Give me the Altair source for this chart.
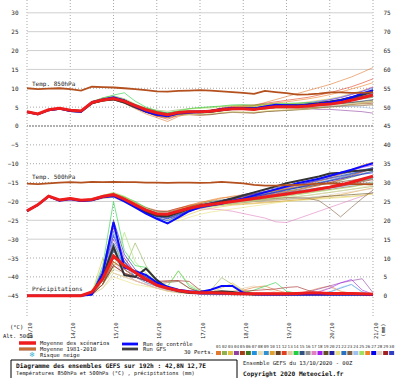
import altair as alt
import pandas as pd

FONT = "DejaVu Sans Mono"

HOURS = list(range(0, 193, 6))
DATES = ["13/10", "14/10", "15/10", "16/10", "17/10", "18/10", "19/10", "20/10", "21/10"]
MEMBER_IDS = ["%02d" % i for i in range(1, 31)]
MEMBER_COLORS = ["#e07830", "#90b050", "#e0c040", "#9040a0", "#a03c14", "#3c7820", "#2090e0", "#e8dcb0",
                 "#3090d0", "#e0a030", "#604020", "#e04020", "#e0c8a0", "#20d040", "#305080", "#909090",
                 "#e080c0", "#a020f0", "#605020", "#2020a0", "#e8e080", "#2870c0", "#806040", "#a0c0f0",
                 "#a0e060", "#f08020", "#0000f0", "#e0d0c0", "#a02020", "#3040c0"]

GRID_SOLID = [30, 25, 20, 15, -20, -25, -30]
GRID_DOTTED = [10, 5, -5, -10, -15, -35, -40, -45]
GRID_ZERO = [0]

# ---------------- 850 hPa temperature (deg C) ----------------
T850_MEAN = [3.8,3.2,4.3,4.7,4.2,4.0, 6.2,6.9,7.3,6.6,5.4,4.3, 3.5,3.0,3.6,3.8,3.8,3.9, 4.3,4.6,4.6,4.4,4.8,5.1, 5.1,5.1,5.3,5.6,5.8,6.2, 6.8,7.5,8.2]
T850_CLIM = [10.0,9.8,9.9,10.0,9.8,9.4, 10.4,10.3,10.2,10.0,9.8,9.5, 9.2,9.1,9.3,9.4,9.5,9.4, 9.2,9.0,8.8,8.5,9.3,9.0, 8.7,8.3,8.4,8.6,8.9,8.9, 8.8,8.8,8.9]
T850_CTRL = [3.7,3.1,4.2,4.6,4.0,3.8, 6.3,7.0,7.6,6.8,5.2,3.8, 3.0,2.6,3.3,3.6,3.7,3.9, 4.5,4.8,4.7,4.6,5.2,5.6, 5.5,5.4,5.6,5.9,6.3,6.8, 7.6,8.6,9.5]
T850_GFS = [3.7,3.1,4.2,4.6,4.0,3.8, 6.0,6.8,7.1,6.2,5.0,3.8, 3.0,2.8,3.5,3.7,3.6,3.8, 4.2,4.6,4.8,4.6,5.0,5.3, 5.4,5.4,5.7,6.0,6.4,6.9, 7.6,8.3,9.1]
T850_MEMBERS = [
    [3.9,3.3,4.4,4.8,4.3,4.1, 6.5,7.2,7.0,6.0,4.6,3.2, 2.2,1.2,2.5,3.4,3.8,4.0, 4.3,4.6,4.8,5.4,6.2,7.0, 7.8,8.6,9.4,10.2,11.0,12.0, 13.0,14.2,15.5],
    [3.8,3.2,4.3,4.7,4.2,4.0, 6.3,7.5,8.0,7.2,5.8,4.8, 4.2,3.9,4.3,4.6,4.8,5.0, 5.2,5.4,5.6,5.4,5.6,5.8, 5.9,5.8,5.7,5.8,5.9,6.0, 6.1,6.2,6.3],
    [3.8,3.2,4.2,4.6,4.1,3.9, 6.0,6.6,7.0,6.4,5.0,3.8, 2.8,2.2,3.0,3.5,3.8,4.0, 4.2,4.4,4.8,5.0,5.4,5.6, 5.8,6.0,6.4,6.8,7.2,7.8, 8.6,9.4,10.4],
    [3.7,3.1,4.3,4.7,4.2,4.0, 6.2,6.8,7.4,6.8,5.6,4.6, 3.8,3.4,3.8,3.9,3.8,3.7, 4.0,4.3,4.4,4.5,4.8,5.0, 5.0,4.8,4.6,4.4,4.4,4.2, 4.0,3.8,3.4],
    [3.8,3.2,4.3,4.8,4.3,4.1, 6.1,6.7,7.1,6.2,4.8,3.6, 2.6,2.2,2.8,3.0,2.8,3.0, 3.4,3.6,3.5,3.4,3.8,4.0, 4.2,4.4,4.6,4.9,5.1,5.3, 5.6,5.9,6.0],
    [3.9,3.3,4.4,4.7,4.2,4.1, 6.4,7.0,7.4,6.8,5.5,4.6, 3.9,3.4,3.9,4.1,4.0,4.1, 4.6,5.0,5.1,4.8,5.2,5.6, 5.7,5.8,6.0,6.3,6.6,7.0, 7.4,7.8,8.4],
    [3.7,3.2,4.2,4.6,4.1,3.9, 6.3,7.1,7.5,6.9,5.7,4.4, 3.4,2.9,3.4,3.7,3.9,4.1, 4.5,4.8,5.0,5.0,5.3,5.5, 5.6,5.8,6.2,6.6,7.0,7.6, 8.4,9.2,10.0],
    [3.8,3.3,4.3,4.7,4.2,4.0, 6.2,6.9,7.2,6.5,5.2,4.0, 3.0,2.5,3.0,3.2,3.0,3.2, 3.5,3.6,3.6,3.6,3.8,4.0, 4.1,4.2,4.4,4.7,4.9,5.1, 5.5,5.6,5.8],
    [3.8,3.2,4.3,4.6,4.1,4.0, 6.2,6.9,7.3,6.7,5.6,4.5, 3.7,3.2,3.7,3.9,4.0,4.1, 4.4,4.6,4.6,4.7,5.0,5.3, 5.5,5.7,5.9,6.2,6.5,6.9, 7.4,8.0,8.8],
    [3.9,3.3,4.4,4.8,4.3,4.1, 6.6,7.3,7.6,6.6,5.2,3.9, 2.9,2.5,3.4,3.8,3.9,4.0, 4.4,4.6,4.6,4.4,4.6,4.8, 4.8,4.7,4.9,5.0,5.2,5.4, 5.7,6.0,6.4],
    [3.7,3.1,4.2,4.6,4.1,3.9, 5.9,6.6,7.0,6.3,5.0,3.9, 3.2,2.8,3.4,3.7,3.6,3.7, 4.1,4.4,4.4,4.3,4.6,4.9, 5.0,5.0,5.2,5.4,5.6,5.9, 6.2,6.5,6.8],
    [3.8,3.2,4.3,4.7,4.2,4.0, 6.3,7.0,7.3,6.4,5.0,3.7, 2.6,1.8,2.8,3.4,3.8,4.2, 4.8,5.2,5.4,5.6,6.0,6.4, 6.8,7.2,7.6,8.2,8.8,9.6, 10.4,11.4,12.5],
    [3.8,3.2,4.3,4.7,4.2,4.0, 6.2,6.8,7.1,6.3,5.0,3.9, 3.0,2.4,3.2,3.6,3.8,4.0, 4.3,4.6,4.6,4.5,4.8,5.1, 5.1,5.1,5.3,5.4,5.5,5.6, 5.6,5.7,5.7],
    [3.8,3.2,4.3,4.7,4.2,4.0, 6.4,7.4,8.2,8.8,6.6,5.0, 4.0,3.5,4.0,4.6,4.9,5.1, 5.3,5.6,5.6,5.5,5.8,6.0, 6.0,6.1,6.2,6.3,6.5,6.7, 7.0,7.3,7.6],
    [3.7,3.1,4.2,4.6,4.1,3.9, 6.1,6.8,7.3,6.7,5.5,4.4, 3.6,3.1,3.6,3.8,3.8,3.9, 4.3,4.7,4.7,4.5,4.9,5.2, 5.2,5.2,5.4,5.6,5.8,6.0, 6.3,6.6,7.0],
    [3.8,3.2,4.3,4.7,4.2,4.0, 6.2,7.0,7.6,7.0,5.6,4.4, 3.5,3.0,3.5,3.7,3.7,3.8, 4.2,4.5,4.5,4.3,4.6,4.9, 5.0,5.1,5.3,5.6,5.9,6.3, 6.7,7.2,7.6],
    [3.8,3.2,4.3,4.7,4.2,4.0, 6.2,6.9,7.2,6.5,5.2,4.1, 3.3,2.9,3.5,3.8,3.9,4.1, 4.5,4.7,4.7,4.6,4.9,5.1, 5.2,5.4,5.7,6.0,6.3,6.7, 7.2,7.8,8.3],
    [3.9,3.3,4.4,4.8,4.3,4.1, 6.3,6.9,7.2,6.5,5.3,4.2, 3.4,3.0,3.6,3.9,4.0,4.1, 4.5,4.8,4.9,4.8,5.2,5.5, 5.6,5.7,6.0,6.4,6.9,7.5, 8.3,9.2,10.3],
    [3.8,3.2,4.3,4.7,4.2,4.0, 6.0,6.6,6.9,6.1,4.8,3.7, 3.0,2.6,3.0,3.2,3.0,3.1, 3.4,3.7,3.6,3.5,3.8,4.0, 4.1,4.3,4.5,4.8,5.1,5.4, 5.8,6.1,6.5],
    [3.7,3.1,4.2,4.6,4.1,3.9, 6.2,7.0,7.5,6.9,5.6,4.3, 3.3,2.8,3.4,3.8,4.0,4.2, 4.6,4.8,4.8,4.7,5.1,5.4, 5.5,5.6,5.8,6.1,6.4,6.8, 7.3,7.8,8.5],
    [3.8,3.2,4.3,4.7,4.2,4.0, 6.3,7.1,7.4,6.6,5.3,4.1, 3.2,2.6,2.8,3.0,3.1,3.3, 3.6,3.8,3.7,3.7,4.0,4.2, 4.3,4.4,4.6,4.9,5.2,5.5, 5.9,6.2,6.6],
    [3.8,3.2,4.3,4.7,4.2,4.0, 6.2,6.9,7.3,6.7,5.5,4.4, 3.6,3.1,3.6,3.8,3.8,4.0, 4.4,4.7,4.8,4.7,5.0,5.3, 5.4,5.5,5.8,6.1,6.5,7.0, 7.6,8.3,9.0],
    [3.8,3.2,4.3,4.7,4.2,4.0, 6.1,6.7,7.0,6.3,5.0,3.9, 3.1,2.7,3.3,3.7,3.8,3.9, 4.2,4.5,4.5,4.3,4.5,4.8, 4.8,4.8,4.9,5.0,5.1,5.2, 5.3,5.4,5.6],
    [3.8,3.2,4.3,4.7,4.2,4.0, 6.2,6.9,7.3,6.6,5.3,4.2, 3.4,3.0,3.6,3.8,3.9,4.0, 4.3,4.5,4.5,4.4,4.7,5.0, 5.0,5.0,5.1,5.2,5.3,5.3, 5.2,5.0,4.6],
    [3.8,3.2,4.3,4.7,4.2,4.0, 6.4,7.3,7.8,7.2,5.8,4.6, 3.7,3.2,3.9,4.5,4.7,4.8, 5.2,5.4,5.3,5.2,5.5,5.7, 5.8,5.9,6.0,6.2,6.4,6.6, 6.9,7.4,8.0],
    [3.8,3.2,4.3,4.7,4.2,4.0, 6.2,6.9,7.2,6.4,5.0,3.8, 2.9,2.4,3.2,3.7,3.9,4.2, 4.6,5.0,5.2,5.3,5.7,6.1, 6.4,6.8,7.2,7.7,8.3,9.0, 9.8,10.6,11.5],
    [3.8,3.2,4.3,4.7,4.2,4.0, 6.3,7.0,7.4,6.8,5.6,4.4, 3.5,3.0,3.5,3.8,3.9,4.1, 4.5,4.8,4.9,4.8,5.1,5.4, 5.5,5.5,5.7,6.0,6.3,6.7, 7.2,7.7,8.2],
    [3.8,3.2,4.3,4.7,4.2,4.0, 6.1,6.8,7.2,6.6,5.4,4.3, 3.5,3.0,3.5,3.7,3.7,3.8, 4.2,4.5,4.5,4.4,4.7,4.9, 5.0,5.0,5.1,5.3,5.5,5.7, 5.9,6.1,6.3],
    [3.8,3.2,4.3,4.7,4.2,4.0, 6.2,6.9,7.3,6.6,5.3,4.1, 3.2,2.7,3.3,3.7,3.8,3.9, 4.3,4.6,4.6,4.5,4.9,5.2, 5.3,5.4,5.6,5.9,6.2,6.6, 7.1,7.6,8.0],
    [3.8,3.2,4.3,4.7,4.2,4.0, 6.2,6.9,7.3,6.7,5.4,4.3, 3.4,2.9,3.5,3.8,3.9,4.0, 4.4,4.7,4.7,4.6,5.0,5.3, 5.4,5.5,5.7,6.0,6.4,6.8, 7.4,8.1,9.6],
]

# ---------------- 500 hPa temperature (deg C) ----------------
T500_MEAN = [-22.5,-20.9,-18.6,-19.6,-19.2,-19.7, -19.5,-18.7,-18.2,-19.4,-20.9,-22.3, -23.3,-23.4,-22.6,-21.8,-21.2,-20.8, -20.4,-20.0,-19.6,-19.2,-18.8,-18.4, -18.0,-17.6,-17.2,-16.7,-16.2,-15.6, -14.9,-14.1,-13.3]
T500_CLIM = [-15.3,-15.4,-15.2,-15.0,-14.9,-15.0, -14.8,-14.9,-14.8,-14.9,-14.9,-15.0, -15.0,-15.1,-15.0,-15.0,-15.1,-15.0, -14.8,-15.0,-15.2,-15.6,-15.8,-15.8, -15.7,-15.6,-15.5,-15.3,-15.2,-15.3, -15.4,-15.4,-15.5]
T500_CTRL = [-22.5,-20.9,-18.7,-19.8,-19.4,-19.9, -19.7,-18.9,-18.6,-20.0,-21.6,-23.2, -24.6,-25.8,-24.2,-22.6,-21.5,-21.0, -20.6,-19.8,-19.2,-18.4,-17.6,-16.8, -16.0,-15.2,-14.6,-14.0,-13.2,-12.4, -11.6,-10.7,-9.9]
T500_GFS = [-22.5,-20.9,-18.6,-19.7,-19.3,-19.8, -19.6,-18.8,-18.4,-19.6,-21.2,-22.8, -23.8,-24.0,-23.0,-22.0,-21.2,-20.6, -20.0,-19.2,-18.4,-17.6,-16.8,-16.0, -15.2,-14.6,-14.0,-13.4,-12.6,-12.4, -12.0,-11.8,-11.6]
T500_MEMBERS = [
    [-22.6,-21.0,-18.5,-19.5,-19.0,-19.6, -19.3,-18.4,-17.8,-18.8,-20.2,-21.8, -23.0,-23.2,-22.0,-21.0,-20.2,-19.8, -19.2,-18.6,-18.2,-17.8,-17.4,-17.0, -16.6,-16.2,-15.8,-15.2,-14.6,-13.8, -13.0,-12.0,-11.0],
    [-22.4,-20.8,-18.7,-19.7,-19.4,-19.8, -19.8,-19.2,-18.9,-20.2,-21.6,-22.8, -23.6,-23.4,-22.4,-21.6,-21.2,-21.0, -20.8,-20.6,-20.3,-20.0,-19.7,-19.3, -19.0,-18.7,-18.4,-18.0,-17.6,-17.2, -16.8,-16.4,-16.0],
    [-22.5,-21.0,-18.8,-19.8,-19.4,-20.0, -19.6,-18.6,-18.0,-19.0,-20.4,-22.0, -23.0,-23.8,-24.6,-23.4,-22.4,-21.8, -21.4,-21.0,-20.8,-20.6,-20.4,-20.2, -19.9,-19.6,-19.4,-19.2,-19.0,-18.8, -18.6,-18.4,-18.0],
    [-22.6,-21.0,-18.6,-19.6,-19.2,-19.8, -19.6,-18.8,-18.4,-19.6,-21.0,-22.6, -23.8,-24.0,-23.0,-21.8,-21.0,-20.4, -20.0,-19.4,-18.8,-18.2,-17.6,-17.0, -16.4,-15.8,-15.2,-14.6,-14.0,-13.4, -12.8,-12.2,-11.4],
    [-22.5,-20.9,-18.6,-19.5,-19.1,-19.6, -19.4,-18.6,-18.2,-19.4,-20.8,-22.0, -22.8,-22.6,-21.8,-21.2,-20.8,-20.6, -20.4,-20.2,-20.0,-19.6,-19.2,-18.8, -18.4,-18.0,-17.6,-17.2,-16.8,-16.4, -16.0,-15.6,-15.2],
    [-22.5,-20.9,-18.5,-19.6,-19.3,-19.8, -19.5,-18.8,-18.4,-19.8,-21.4,-22.8, -23.6,-23.4,-22.4,-21.4,-20.6,-20.0, -19.6,-19.2,-18.8,-18.4,-18.0,-17.6, -17.2,-16.8,-16.2,-15.6,-15.0,-14.4, -13.6,-12.8,-12.0],
    [-22.4,-20.8,-18.6,-19.7,-19.3,-19.7, -19.5,-18.7,-18.3,-19.5,-21.2,-22.8, -24.2,-25.2,-24.0,-22.6,-21.6,-21.0, -20.4,-19.8,-19.2,-18.6,-18.0,-17.4, -16.8,-16.2,-15.6,-15.0,-14.4,-13.6, -12.8,-12.0,-11.0],
    [-22.5,-20.9,-18.6,-19.6,-19.2,-19.7, -19.5,-18.7,-18.3,-19.3,-20.6,-21.8, -22.6,-22.8,-22.2,-21.6,-21.2,-20.9, -20.6,-20.3,-20.0,-19.8,-19.6,-19.3, -19.0,-18.7,-18.4,-18.0,-17.6,-17.2, -16.8,-16.2,-15.6],
    [-22.5,-20.9,-18.6,-19.6,-19.2,-19.7, -19.5,-18.7,-18.3,-19.6,-21.2,-22.6, -23.8,-24.4,-23.4,-22.2,-21.2,-20.4, -19.8,-19.2,-18.6,-18.0,-17.4,-16.8, -16.2,-15.6,-15.0,-14.4,-13.8,-13.2, -12.6,-11.8,-11.0],
    [-22.6,-21.0,-18.7,-19.7,-19.3,-19.8, -19.6,-18.8,-18.2,-19.2,-20.6,-22.0, -23.0,-23.4,-22.8,-22.0,-21.4,-21.2, -21.0,-20.8,-20.6,-20.4,-20.2,-20.0, -19.8,-19.6,-19.4,-19.0,-18.6,-18.2, -17.6,-17.0,-16.4],
    [-22.5,-20.9,-18.6,-19.6,-19.2,-19.7, -19.5,-18.7,-18.3,-19.5,-21.0,-22.4, -23.4,-23.6,-22.8,-21.8,-21.0,-20.4, -19.8,-19.2,-18.6,-18.0,-17.6,-17.2, -16.8,-16.4,-16.0,-15.6,-15.2,-14.8, -14.4,-14.0,-13.6],
    [-22.5,-20.9,-18.6,-19.6,-19.2,-19.7, -19.5,-18.7,-18.3,-19.3,-20.4,-21.6, -22.4,-22.6,-21.8,-21.0,-20.6,-20.4, -20.0,-19.4,-19.0,-18.6,-18.2,-17.8, -17.4,-17.0,-16.4,-15.8,-15.0,-14.2, -13.2,-12.2,-11.2],
    [-22.5,-20.9,-18.6,-19.6,-19.2,-19.7, -19.5,-18.7,-18.3,-19.6,-21.0,-22.6, -23.6,-24.0,-23.2,-22.4,-21.8,-21.4, -21.0,-20.6,-20.2,-19.8,-19.4,-19.0, -18.6,-18.2,-17.8,-17.2,-16.4,-15.6, -14.8,-14.0,-13.4],
    [-22.5,-20.9,-18.6,-19.6,-19.2,-19.7, -19.4,-18.5,-18.0,-18.8,-20.0,-21.6, -22.8,-23.2,-22.4,-21.6,-21.0,-20.6, -20.2,-19.8,-19.4,-19.0,-18.6,-18.2, -17.8,-17.4,-17.0,-16.6,-16.2,-15.8, -15.2,-14.6,-14.0],
    [-22.5,-20.9,-18.6,-19.6,-19.2,-19.7, -19.5,-18.7,-18.3,-19.5,-21.2,-22.8, -24.0,-24.4,-23.4,-22.4,-21.6,-21.0, -20.4,-19.8,-19.2,-18.8,-18.4,-18.0, -17.6,-17.2,-16.8,-16.4,-16.0,-15.6, -15.0,-14.4,-13.8],
    [-22.5,-20.9,-18.6,-19.6,-19.2,-19.7, -19.5,-18.7,-18.3,-19.4,-20.8,-22.2, -23.2,-23.4,-22.6,-21.8,-21.2,-20.8, -20.4,-20.0,-19.6,-19.2,-18.8,-18.4, -18.0,-17.6,-17.2,-16.8,-16.4,-16.0, -15.6,-15.2,-14.8],
    [-22.5,-20.9,-18.6,-19.6,-19.2,-19.7, -19.5,-18.7,-18.3,-19.4,-20.8,-22.0, -22.8,-23.0,-22.6,-22.2,-22.0,-22.0, -22.2,-22.6,-23.2,-23.8,-24.4,-25.4, -25.6,-24.6,-23.6,-22.6,-21.6,-20.6, -19.6,-18.6,-17.6],
    [-22.5,-20.9,-18.6,-19.6,-19.2,-19.7, -19.5,-18.7,-18.3,-19.6,-21.2,-22.6, -23.6,-23.8,-22.8,-21.8,-21.0,-20.4, -19.8,-19.2,-18.6,-18.0,-17.4,-16.8, -16.2,-15.6,-15.0,-14.2,-13.4,-12.6, -11.8,-11.0,-10.4],
    [-22.5,-20.9,-18.6,-19.6,-19.2,-19.7, -19.5,-18.7,-18.3,-19.3,-20.6,-21.8, -22.6,-22.8,-22.2,-21.6,-21.2,-20.8, -20.6,-20.4,-20.2,-20.0,-19.8,-19.6, -19.4,-19.2,-19.0,-18.8,-18.6,-18.4, -18.2,-18.0,-17.8],
    [-22.5,-20.9,-18.6,-19.6,-19.2,-19.7, -19.5,-18.7,-18.3,-19.6,-21.4,-23.0, -24.4,-25.0,-23.8,-22.4,-21.4,-20.6, -19.8,-19.0,-18.2,-17.6,-17.0,-16.4, -15.8,-15.2,-14.6,-14.0,-13.4,-12.8, -12.2,-11.6,-11.2],
    [-22.5,-20.9,-18.6,-19.6,-19.2,-19.7, -19.5,-18.7,-18.3,-19.4,-20.8,-22.4, -23.8,-24.8,-25.2,-24.2,-23.4,-22.8, -22.4,-22.0,-21.6,-21.2,-20.8,-20.4, -20.0,-19.8,-19.6,-19.4,-19.2,-19.0, -18.8,-18.4,-18.0],
    [-22.5,-20.9,-18.6,-19.6,-19.2,-19.7, -19.5,-18.7,-18.3,-19.5,-21.0,-22.4, -23.4,-23.8,-23.0,-22.0,-21.2,-20.6, -20.0,-19.6,-19.2,-18.6,-18.0,-17.4, -16.8,-16.2,-15.6,-15.0,-14.4,-13.8, -13.2,-12.6,-12.0],
    [-22.5,-20.9,-18.6,-19.6,-19.2,-19.7, -19.5,-18.7,-18.3,-19.4,-20.8,-22.2, -23.0,-23.2,-22.4,-21.6,-21.0,-20.6, -20.2,-20.0,-19.8,-19.6,-19.4,-19.2, -19.0,-19.0,-19.2,-19.8,-21.8,-24.1, -21.6,-19.2,-17.0],
    [-22.5,-20.9,-18.6,-19.6,-19.2,-19.7, -19.5,-18.7,-18.3,-19.5,-21.0,-22.4, -23.4,-23.6,-22.8,-22.0,-21.4,-21.0, -20.6,-20.2,-19.8,-19.4,-19.0,-18.6, -18.2,-17.8,-17.4,-17.0,-16.6,-16.2, -15.8,-15.4,-15.0],
    [-22.5,-20.9,-18.6,-19.6,-19.2,-19.7, -19.4,-18.4,-17.6,-18.6,-20.2,-21.8, -23.0,-23.4,-22.8,-22.2,-21.8,-21.4, -21.0,-20.6,-20.2,-19.8,-19.4,-19.0, -18.6,-18.2,-17.8,-17.4,-17.0,-16.6, -16.2,-15.6,-15.0],
    [-22.5,-20.9,-18.6,-19.6,-19.2,-19.7, -19.5,-18.7,-18.3,-19.3,-20.6,-22.0, -23.0,-23.2,-22.2,-21.2,-20.4,-19.6, -19.0,-18.8,-18.6,-18.2,-17.8,-17.2, -16.6,-16.0,-15.4,-14.6,-13.8,-12.8, -11.6,-10.4,-9.6],
    [-22.5,-20.9,-18.6,-19.6,-19.2,-19.7, -19.5,-18.7,-18.3,-19.6,-21.2,-22.8, -24.0,-24.6,-23.6,-22.6,-21.8,-21.2, -20.6,-20.0,-19.4,-18.8,-18.2,-17.6, -17.0,-16.4,-15.8,-15.2,-14.6,-14.0, -13.4,-12.8,-12.4],
    [-22.5,-20.9,-18.6,-19.6,-19.2,-19.7, -19.5,-18.7,-18.3,-19.3,-20.6,-21.8, -22.8,-23.0,-22.4,-21.8,-21.4,-21.0, -20.6,-20.4,-20.2,-20.0,-19.8,-19.6, -19.4,-19.2,-19.0,-18.6,-18.2,-17.8, -17.4,-17.0,-16.6],
    [-22.5,-20.9,-18.6,-19.6,-19.2,-19.7, -19.5,-18.7,-18.3,-19.5,-21.0,-22.4, -23.4,-23.4,-22.6,-21.8,-21.2,-20.8, -20.4,-20.0,-19.6,-19.2,-18.8,-18.4, -18.0,-17.6,-17.2,-16.8,-16.4,-16.0, -15.4,-14.8,-14.2],
    [-22.5,-20.9,-18.6,-19.6,-19.2,-19.7, -19.5,-18.7,-18.3,-19.6,-21.2,-22.6, -23.6,-23.8,-22.8,-21.8,-21.0,-20.4, -19.8,-19.2,-18.6,-18.0,-17.4,-16.8, -16.2,-15.6,-15.0,-14.4,-13.8,-13.2, -12.6,-12.0,-11.4],
]

# ---------------- precipitation (mm / 6h) ----------------
PR_MEAN = [0,0,0,0,0,0, 1.0,4.5,10.5,8.0,6.2,4.4, 2.8,2.0,1.4,1.0,0.8,0.8, 0.7,0.6,0.5,0.5,0.5,0.5, 0.5,0.6,0.7,0.7,0.6,0.6, 0.6,0.5,0.4]
PR_CTRL = [0,0,0,0,0,0, 0.3,6.0,19.5,7.5,6.5,5.5, 3.5,2.4,1.6,1.2,1.0,1.6, 2.6,2.6,0.8,0.4,0.3,0.3, 0.3,0.3,0.3,0.3,0.3,0.3, 0.3,0.3,0.2]
PR_GFS = [0,0,0,0,0,0, 0.8,5.0,13.0,5.5,5.0,7.2, 4.2,2.0,1.2,0.8,0.7,0.9, 1.2,1.0,0.5,0.3,0.3,0.3, 0.3,0.3,0.3,0.3,0.3,0.3, 0.3,0.3,0.3]
PR_MEMBERS = [
    [0,0,0,0,0,0, 0.5,3,8,10,6,4, 3,2,1.5,1,0.6,0.5, 0.8,1.2,1.5,2.2,2.6,1.5, 0.8,0.6,1.2,2,2.6,1.2, 0.6,0.4,0.3],
    [0,0,0,0,0,0, 0.3,4,12,7,14,8, 4,2,1.2,0.8,0.6,1.5, 4.8,3,1.2,0.6,0.4,0.3, 0.3,0.3,0.3,0.3,0.3,0.3, 0.3,0.3,0.3],
    [0,0,0,0,0,0.3, 0.8,9.8,6,5,4,3, 2,1.2,0.8,0.6,0.5,1, 2,3.4,1.5,0.6,0.4,0.3, 0.3,0.3,0.3,0.4,0.5,0.5, 0.4,0.3,0.2],
    [0,0,0,0,0,0, 0.5,5,15,9,6,4, 3,2,1,0.6,0.4,0.3, 0.3,0.3,0.3,0.3,0.3,0.3, 0.4,0.6,1,1.8,2.6,3.4, 4,4.5,0.8],
    [0,0,0,0,0,0, 0.4,3,9,7,5,4, 3.5,3.8,4.0,2,1,0.6, 0.4,0.3,0.3,0.3,0.3,0.3, 0.3,0.3,0.3,0.3,0.3,0.3, 0.3,0.3,0.3],
    [0,0,0,0,0,0, 0.3,3,11,8,6,5, 3,1.8,1.2,0.8,0.6,0.5, 0.5,0.4,0.4,0.4,0.4,0.4, 0.4,0.4,0.4,0.4,0.4,0.4, 0.4,0.4,0.4],
    [0,0,0,0,0,0, 0.5,6,17,9,5,4, 3,2,1.2,0.8,0.5,0.4, 0.4,0.3,0.3,0.3,0.3,0.3, 0.3,0.3,0.3,0.5,1,2, 3,1,0.3],
    [0,0,0,0,0,0, 0.3,2,6,5,4,3, 2,1.4,1,0.8,0.6,0.5, 0.4,0.4,0.4,0.4,0.4,0.4, 0.4,0.4,0.4,0.4,0.4,0.4, 0.4,0.4,0.4],
    [0,0,0,0,0,0, 0.6,5,13,8,6,4.5, 3,2,1.2,0.8,0.6,0.5, 0.5,0.4,0.3,0.3,0.3,0.3, 0.3,0.3,0.3,0.3,0.3,0.3, 0.3,0.3,0.3],
    [0,0,0,0,0,0, 0.4,4,10,8,6,4, 2.5,1.5,1,0.8,0.6,0.5, 0.5,0.5,0.5,0.5,0.5,0.5, 0.5,0.5,0.5,0.5,0.5,0.5, 0.5,0.5,0.5],
    [0,0,0,0,0,0, 0.3,3,8,6,5,4, 3,2,1.2,0.8,0.6,0.5, 0.4,0.3,0.3,0.3,0.3,0.3, 0.3,0.3,0.3,0.3,0.3,0.3, 0.3,0.3,0.3],
    [0,0,0,0,0,0, 0.5,4,11,7,5,4, 3,2,1.5,1.2,1,0.8, 0.8,0.8,0.8,0.8,0.8,0.8, 0.8,0.8,0.8,0.8,0.8,0.8, 0.8,0.6,0.5],
    [0,0,0,0,0,0, 0.3,3,7,6,4,3, 2,1.2,0.8,0.6,0.6,0.6, 0.6,1,2,2.6,1.8,1, 0.6,0.6,0.8,1.2,2.2,1.2, 0.6,0.4,0.3],
    [0,0,0,0,0,0, 0.5,8,25,12,8,7.5, 4,2.5,6.6,2.5,1.2,0.8, 0.6,0.5,0.8,1.5,2.5,3.5, 1.2,0.6,0.4,0.3,0.3,0.3, 0.3,0.3,0.3],
    [0,0,0,0,0,0, 0.4,4,12,7,5,3.5, 2.5,1.5,1,0.7,0.5,0.4, 0.4,0.4,0.4,0.4,0.4,0.4, 0.4,0.4,0.4,0.4,0.4,0.4, 0.4,0.4,0.4],
    [0,0,0,0,0,0, 0.3,5,14,9,6,5, 4,2.5,1.5,1,0.8,0.6, 0.5,0.4,0.4,0.4,0.4,0.4, 0.4,0.4,0.4,0.4,0.4,0.4, 0.4,0.4,0.4],
    [0,0,0,0,0,0, 0.4,3,9,6,4,3, 2,1.5,1,0.8,0.6,0.5, 0.4,0.4,0.4,0.4,0.4,0.4, 0.4,0.4,0.4,0.4,0.4,0.4, 0.4,0.4,0.4],
    [0,0,0,0,0,0, 0.5,6,18,10,6,4, 3,2,1.2,0.8,0.5,0.4, 0.4,0.4,0.4,0.4,0.4,0.4, 0.4,0.4,0.6,1,2,3.4, 4.3,1.5,0.4],
    [0,0,0,0,0,0, 0.3,3,10,8,6,5, 3,2,1.2,0.8,0.6,0.5, 0.5,0.5,0.5,0.5,0.5,0.5, 0.5,0.5,0.5,0.5,0.5,0.5, 0.5,0.5,0.5],
    [0,0,0,0,0,0, 0.4,7,20,11,7,5, 3,2,1.2,0.8,0.6,0.5, 0.4,0.4,0.4,0.4,0.4,0.4, 0.4,0.4,0.4,0.4,0.4,0.4, 0.4,0.4,0.4],
    [0,0,0,0,0,0, 0.3,2,5,4,3,2.5, 2,1.5,1,0.8,0.6,0.5, 0.5,0.5,0.5,0.5,0.5,0.5, 0.5,0.5,0.5,0.5,0.5,0.5, 0.5,0.5,0.5],
    [0,0,0,0,0,0, 0.5,5,14,8,6,5, 3,2,1.2,0.8,0.6,0.5, 0.4,0.4,0.4,0.4,0.4,0.4, 0.4,0.4,0.4,0.4,0.4,0.4, 0.4,0.4,0.4],
    [0,0,0,0,0,0, 0.3,3,9,7,5,4, 3,3.5,3.8,2,1,0.6, 0.5,0.4,0.4,0.4,0.4,0.4, 0.4,0.4,0.4,0.4,0.4,0.4, 0.4,0.4,0.4],
    [0,0,0,0,0,0, 0.4,4,10,7,5,3.5, 2.5,1.5,1,0.8,0.6,0.5, 0.5,0.5,0.5,0.5,0.5,0.5, 0.5,0.5,0.5,0.6,1,2.2, 3,1,0.3],
    [0,0,0,0,0,0, 0.3,3,7,16.8,9,6, 4,2.5,6.6,3,1.5,0.8, 0.6,0.5,0.5,0.5,0.5,0.5, 0.5,0.5,0.5,0.5,0.5,0.5, 0.5,0.5,0.5],
    [0,0,0,0,0,0, 0.5,4,9,7,5,4, 3,2,1.5,1,0.8,0.6, 0.6,0.6,0.6,0.6,0.6,0.6, 0.6,0.6,0.6,0.6,0.6,0.6, 0.6,0.6,0.6],
    [0,0,0,0,0,0, 0.5,6,16,9,6,4, 3,2,1.2,0.8,0.6,0.5, 0.4,0.4,0.4,0.4,0.4,0.4, 0.4,0.4,0.4,0.4,0.4,0.4, 0.4,0.4,0.4],
    [0,0,0,0,0,0, 0.3,2,6,5,4,3, 2,1.5,1,0.8,0.6,0.5, 0.5,0.5,0.5,0.5,0.5,0.5, 0.5,0.5,0.5,0.5,0.5,0.5, 0.5,0.5,0.5],
    [0,0,0,0,0,0, 0.3,3,8,6,5,4, 3.8,4.0,4.0,3.8,1.5,0.8, 0.6,0.8,1.2,1.4,1.6,1.8, 2.2,2.4,1.4,0.8,0.6,0.4, 0.4,0.4,0.4],
    [0,0,0,0,0,0, 0.4,5,12,8,5,4, 3,2,1.2,0.8,0.6,0.5, 0.4,0.4,0.4,0.4,0.4,0.4, 0.4,0.4,0.4,0.4,0.4,0.4, 0.4,0.4,0.4],
]

for arr in [T850_MEAN, T850_CLIM, T850_CTRL, T850_GFS, T500_MEAN, T500_CLIM, T500_CTRL, T500_GFS,
            PR_MEAN, PR_CTRL, PR_GFS] + T850_MEMBERS + T500_MEMBERS + PR_MEMBERS:
    assert len(arr) == len(HOURS), len(arr)


def series(vals):
    return pd.DataFrame({"h": HOURS, "v": vals})


def members(mlist):
    rows = []
    for mid, vals in zip(MEMBER_IDS, mlist):
        for h, v in zip(HOURS, vals):
            rows.append({"h": h, "v": v, "m": mid})
    return pd.DataFrame(rows)


# ---------------- scales / axes ----------------
label_expr = "[" + ",".join("'%s'" % d for d in DATES) + "][round(datum.value / 24)]"
x_axis = alt.Axis(values=list(range(0, 193, 24)), labelExpr=label_expr, labelAngle=270,
                  labelAlign="right", labelBaseline="top", labelPadding=4, ticks=False,
                  domain=False, grid=False, labelFont=FONT, labelFontSize=5.5,
                  labelColor="#222", labelOverlap=False, labelFlush=False, title=None)
X = alt.X("h:Q", scale=alt.Scale(domain=[0, 192], nice=False, zero=False), axis=x_axis, title=None)

yT_axis = alt.Axis(values=list(range(-45, 31, 5)), orient="left", ticks=False, domain=False,
                   grid=False, labelPadding=9, labelFont=FONT, labelFontSize=6,
                   labelColor="#222", labelOverlap=False, title=None)
yP_axis = alt.Axis(values=list(range(0, 76, 5)), orient="right", ticks=False, domain=False,
                   grid=False, labelPadding=10, labelFont=FONT, labelFontSize=6,
                   labelColor="#222", labelOverlap=False, title=None)


def YT(f):
    return alt.Y(f + ":Q", scale=alt.Scale(domain=[-50.9, 33.4], nice=False, zero=False),
                 axis=yT_axis, title=None)


def YP(f):
    return alt.Y(f + ":Q", scale=alt.Scale(domain=[-5.9, 78.4], nice=False, zero=False),
                 axis=yP_axis, title=None)


MCOLOR = alt.Color("m:N", scale=alt.Scale(domain=MEMBER_IDS, range=MEMBER_COLORS), legend=None)

# ---------------- grid ----------------
vgrid = alt.Chart(pd.DataFrame({"h": list(range(0, 193, 24))})).mark_rule(
    color="#a8a8a8", strokeWidth=1, strokeDash=[1, 2]).encode(x=X)
gsolid = alt.Chart(pd.DataFrame({"v": GRID_SOLID})).mark_rule(color="#cfcfcf", strokeWidth=1).encode(y=YT("v"))
gdot = alt.Chart(pd.DataFrame({"v": GRID_DOTTED})).mark_rule(
    color="#a8a8a8", strokeWidth=1, strokeDash=[1, 2]).encode(y=YT("v"))
gzero = alt.Chart(pd.DataFrame({"v": GRID_ZERO})).mark_rule(
    color="#b0b0b0", strokeWidth=2.2, strokeDash=[2, 1]).encode(y=YT("v"))


def line_T(df, color, width):
    return alt.Chart(df).mark_line(color=color, strokeWidth=width).encode(x=X, y=YT("v"))


def line_P(df, color, width):
    return alt.Chart(df).mark_line(color=color, strokeWidth=width).encode(x=X, y=YP("v"))


MW = 0.6
m850 = alt.Chart(members(T850_MEMBERS)).mark_line(strokeWidth=MW).encode(x=X, y=YT("v"), color=MCOLOR, detail="m:N")
m500 = alt.Chart(members(T500_MEMBERS)).mark_line(strokeWidth=MW).encode(x=X, y=YT("v"), color=MCOLOR, detail="m:N")
mpr = alt.Chart(members(PR_MEMBERS)).mark_line(strokeWidth=MW).encode(x=X, y=YP("v"), color=MCOLOR, detail="m:N")

RED = "#ee1c1c"
BLUE = "#0a0aff"
DARK = "#333333"
CLIM = "#b4501e"

temps = alt.layer(
    vgrid, gsolid, gdot, gzero,
    m850, m500,
    line_T(series(T850_GFS), DARK, 2.0), line_T(series(T500_GFS), DARK, 2.0),
    line_T(series(T850_CTRL), BLUE, 2.0), line_T(series(T500_CTRL), BLUE, 2.0),
    line_T(series(T850_CLIM), CLIM, 1.8), line_T(series(T500_CLIM), CLIM, 1.8),
    line_T(series(T850_MEAN), RED, 3.0), line_T(series(T500_MEAN), RED, 3.0),
)

precip = alt.layer(
    mpr,
    line_P(series(PR_GFS), DARK, 2.0),
    line_P(series(PR_CTRL), BLUE, 2.0),
    line_P(series(PR_MEAN), RED, 3.0),
)


# ---------------- annotations (positions relative to plot origin) ----------------
def txt(s, x, y, size=5.5, bold=False, align="left", angle=0, color="#111", font=FONT):
    kw = dict(font=font, fontSize=size, align=align, baseline="middle", color=color)
    if bold:
        kw["fontWeight"] = "bold"
    if angle:
        kw["angle"] = angle
    return alt.Chart(pd.DataFrame({"s": [s]})).mark_text(**kw).encode(
        text="s:N", x=alt.value(x), y=alt.value(y))


def seg(x1, x2, y, color, w):
    return alt.Chart(pd.DataFrame({"a": [0]})).mark_rule(color=color, strokeWidth=w).encode(
        x=alt.value(x1), x2=alt.value(x2), y=alt.value(y))


sw = pd.DataFrame({"m": MEMBER_IDS})
sw["px"] = [191.5 + i * 5.97 for i in range(len(MEMBER_IDS))]
sw["x1"] = sw["px"] - 2.5
sw["x2"] = sw["px"] + 2.5
swatches = alt.Chart(sw).mark_rect().encode(
    x=alt.X("x1:Q", scale=None), x2="x2:Q", y=alt.value(351), y2=alt.value(355), color=MCOLOR)
swnums = alt.Chart(sw).mark_text(font=FONT, fontSize=4.2, color="#333", baseline="middle").encode(
    x=alt.X("px:Q", scale=None), y=alt.value(347), text="m:N")

box = alt.Chart(pd.DataFrame({"a": [0]})).mark_rect(fillOpacity=0, stroke="#000", strokeWidth=1).encode(
    x=alt.value(-16), x2=alt.value(210), y=alt.value(360), y2=alt.value(381))

annotations = [
    txt("Temp. 850hPa", 5, 84, size=6, color="#222"),
    txt("Temp. 500hPa", 5, 177, size=6, color="#222"),
    txt("Précipitations", 5, 289, size=6, color="#222"),
    txt("(°C)", -17, 327, size=5.5),
    txt("Alt. 500m", -24, 336, size=5.5),
    txt("(mm)", 356, 330, size=5.5, align="center", angle=270),
    seg(-8, 9, 343, RED, 3.5),
    seg(-8, 9, 349, "#a04818", 3),
    seg(-8, 9, 349, "#f09050", 1),
    txt("❄", 5, 355, size=7, align="center", color="#30b0d0", font="DejaVu Sans"),
    txt("Moyenne des scénarios", 13, 343),
    txt("Moyenne 1981-2010", 13, 349),
    txt("Risque neige", 13, 355),
    seg(95, 111, 344, BLUE, 2.8),
    seg(95, 111, 349, "#404040", 2.8),
    txt("Run de contrôle", 116, 344),
    txt("Run GFS", 116, 349),
    txt("30 Perts.", 157, 352),
    swatches, swnums, box,
    txt("Diagramme des ensembles GEFS sur 192h : 42,8N 12,7E", -11, 366, size=6.2, bold=True),
    txt("Températures 850hPa et 500hPa (°C) , précipitations (mm)", -11, 373, size=5.3),
    txt("Ensemble GEFS du 13/10/2020 - 00Z", 216, 363, size=5.5),
    txt("Copyright 2020 Meteociel.fr", 216, 374, size=6.2, bold=True),
]

chart = alt.layer(temps, precip, *annotations).resolve_scale(y="independent").properties(
    width=346, height=318,
    autosize=alt.AutoSizeParams(type="none"),
    padding={"left": 27, "top": 0, "right": 27, "bottom": 60},
    background="white",
).configure_view(stroke=None)

chart.save("out.html", embed_options={"renderer": "svg", "actions": False})
